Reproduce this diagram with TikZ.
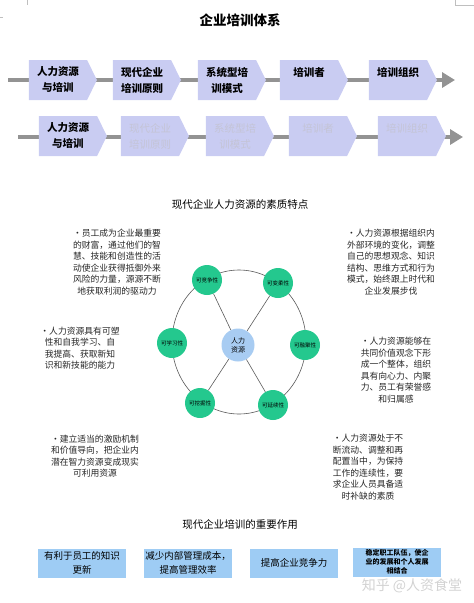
\documentclass[tikz,border=0pt]{standalone}
\usepackage{fontspec}
\setmainfont{Noto Sans CJK SC}
\usetikzlibrary{shapes.symbols,arrows.meta}

\definecolor{stepfill}{RGB}{201,204,242}
\definecolor{stepgray}{RGB}{196,196,214}
\definecolor{traitfill}{RGB}{36,200,142}
\definecolor{corefill}{RGB}{168,204,242}
\definecolor{rolefill}{RGB}{158,204,244}

\tikzset{
  flowline/.style={line width=4pt, draw=gray!85, -{Triangle[length=13pt,width=15pt]}},
  stepbox/.style={shape=signal, signal to=east, signal pointer angle=128, fill=stepfill,
    minimum width=68pt, minimum height=40pt, inner sep=0pt, align=center,
    font=\bfseries\fontsize{10.5}{16}\selectfont},
  notetext/.style={align=center, text=black!85, font=\fontsize{8.8}{11.5}\selectfont},
  headtext/.style={font=\fontsize{10.5}{12}\selectfont},
  traitcirc/.style={circle, fill=traitfill, minimum size=30pt, inner sep=0pt,
    font=\fontsize{5.5}{6}\selectfont},
  ring/.style={draw=black!65, line width=0.6pt},
  rolebox/.style={fill=rolefill, minimum width=88pt, minimum height=29pt, inner sep=0pt,
    align=center, font=\fontsize{9.5}{13.5}\selectfont}
}

\begin{document}
\begin{tikzpicture}[x=1pt, y=-1pt]
  \useasboundingbox (0,0) rectangle (474,603);

  % Corner marks
  \draw[gray!50, thin] (27,0) -- (27,5);
  \draw[gray!50, thin] (0,17) -- (3,17);
  \draw[gray!50, thin] (455,0) -- (455,5) -- (474,5);

  % Title
  \node[font=\bfseries\fontsize{13.5}{15}\selectfont] (title) at (240,20) {企业培训体系};

  % First row of steps
  \coordinate (r1start) at (8,80);
  \coordinate (r1end) at (455,80);
  \draw[flowline] (r1start) -- (r1end);
  \node[stepbox] (s1) at (58,80) {人力资源\\与培训};
  \node[stepbox] (s2) at (142,80) {现代企业\\培训原则};
  \node[stepbox] (s3) at (227,80) {系统型培\\训模式};
  \node[stepbox] (s4) at (309,80) {培训者\\ ~};
  \node[stepbox] (s5) at (398,80) {培训组织\\ ~};

  % Second row of steps, only the first one active
  \coordinate (r2start) at (18,137);
  \coordinate (r2end) at (463,137);
  \draw[flowline] (r2start) -- (r2end);
  \node[stepbox] (t1) at (68,136) {人力资源\\与培训};
  \node[stepbox, text=stepgray, font=\fontsize{10.5}{16}\selectfont] (t2) at (150,136) {现代企业\\培训原则};
  \node[stepbox, text=stepgray, font=\fontsize{10.5}{16}\selectfont] (t3) at (235,136) {系统型培\\训模式};
  \node[stepbox, text=stepgray, font=\fontsize{10.5}{16}\selectfont] (t4) at (318,136) {培训者\\ ~};
  \node[stepbox, text=stepgray, font=\fontsize{10.5}{16}\selectfont] (t5) at (407,136) {培训组织\\ ~};

  % Quality traits
  \node[headtext] (traithead) at (240,204) {现代企业人力资源的素质特点};

  \draw[ring] (239,342) ellipse [x radius=67, y radius=72];
  \node[circle, fill=corefill, minimum size=33pt, inner sep=0pt,
        align=center, font=\fontsize{7}{9}\selectfont] (hr) at (238,345) {人力\\资源};
  \node[traitcirc] (compete) at (207,280) {可竞争性};
  \node[traitcirc] (flex) at (278,283) {可变柔性};
  \node[traitcirc] (learn) at (172,343) {可学习性};
  \node[traitcirc] (merge) at (305,345) {可融聚性};
  \node[traitcirc] (mine) at (200,403) {可挖掘性};
  \node[traitcirc] (cont) at (273,405) {可延续性};
  \draw[ring] (hr) -- (compete);
  \draw[ring] (hr) -- (flex);
  \draw[ring] (hr) -- (mine);
  \draw[ring] (hr) -- (cont);

  % Notes on the left
  \node[notetext] (noteA) at (117,262) {•员工成为企业最重要\\的财富，通过他们的智\\慧、技能和创造性的活\\动使企业获得抵御外来\\风险的力量，源源不断\\地获取利润的驱动力};
  \node[notetext] (noteB) at (80,348) {•人力资源具有可塑\\性和自我学习、自\\我提高、获取新知\\识和新技能的能力};
  \node[notetext] (noteC) at (95,456) {•建立适当的激励机制\\和价值导向，把企业内\\潜在智力资源变成现实\\可利用资源};

  % Notes on the right
  \node[notetext] (noteD) at (391,262) {•人力资源根据组织内\\外部环境的变化，调整\\自己的思想观念、知识\\结构、思维方式和行为\\模式，始终跟上时代和\\企业发展步伐};
  \node[notetext] (noteE) at (396,370) {•人力资源能够在\\共同价值观念下形\\成一个整体，组织\\具有向心力、内聚\\力、员工有荣誉感\\和归属感};
  \node[notetext] (noteF) at (368,467) {•人力资源处于不\\断流动、调整和再\\配置当中，为保持\\工作的连续性，要\\求企业人员具备适\\时补缺的素质};

  % Role of training
  \node[headtext] (rolehead) at (240,524) {现代企业培训的重要作用};
  \node[rolebox] (roleA) at (82,563) {有利于员工的知识\\更新};
  \node[rolebox] (roleB) at (188,563) {减少内部管理成本，\\提高管理效率};
  \node[rolebox] (roleC) at (294,563) {提高企业竞争力};
  \node[rolebox, font=\bfseries\fontsize{7}{9}\selectfont] (roleD) at (397,562) {稳定职工队伍，使企\\业的发展和个人发展\\相结合};

  % Watermark
  \node[text=gray!35, font=\fontsize{14}{16}\selectfont] (mark) at (412,586) {知乎 @人资食堂};
\end{tikzpicture}
\end{document}
